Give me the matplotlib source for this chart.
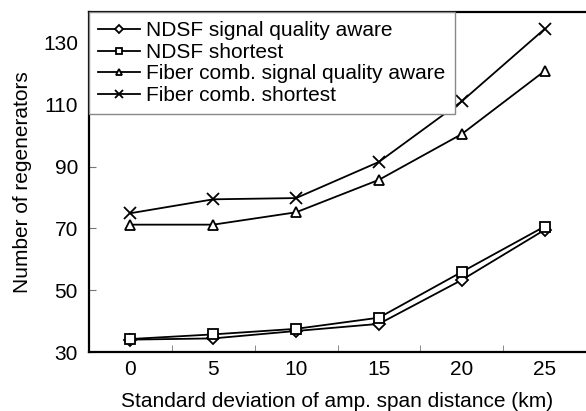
import matplotlib.pyplot as plt

plt.rcParams['font.family'] = ['Liberation Sans', 'DejaVu Sans']

# x categories (standard deviation of amp. span distance, km)
std_dev = [0, 5, 10, 15, 20, 25]

# number of regenerators per strategy
ndsf_quality = [34.0, 34.4, 36.8, 39.1, 53.3, 69.5]
ndsf_shortest = [34.2, 35.7, 37.5, 41.1, 55.9, 70.6]
fiber_quality = [71.2, 71.2, 75.2, 85.7, 100.5, 120.9]
fiber_shortest = [74.9, 79.4, 79.8, 91.5, 111.1, 134.5]

y_ticks = [30, 50, 70, 90, 110, 130]

fig = plt.figure(figsize=(5.86, 4.11), dpi=100)
ax = fig.add_axes([89 / 586, 59 / 411, 497 / 586, 340 / 411])

mk = dict(color='black', lw=1.3, markerfacecolor='white', markeredgecolor='black',
          markeredgewidth=1.3, markersize=7.5)
ax.plot(std_dev, ndsf_quality, marker='D', label='NDSF signal quality aware',
        **{**mk, 'markersize': 6})
ax.plot(std_dev, ndsf_shortest, marker='s', label='NDSF shortest', **{**mk, 'markersize': 7})
ax.plot(std_dev, fiber_quality, marker='^', label='Fiber comb. signal quality aware', **mk)
ax.plot(std_dev, fiber_shortest, marker='x', label='Fiber comb. shortest', **{**mk, 'markersize': 9})

ax.set_xlim(-2.5, 27.5)
ax.set_ylim(30, 140)
ax.set_yticks(y_ticks)
ax.set_xticks(std_dev)
ax.set_xticks([2.5, 7.5, 12.5, 17.5, 22.5], minor=True)
ax.tick_params(axis='x', which='major', length=0, labelsize=15, pad=6)
ax.tick_params(axis='x', which='minor', direction='in', length=5, color='#777777')
ax.tick_params(axis='y', direction='in', length=5, color='#777777', labelsize=15, pad=8)

for side in ['left', 'bottom', 'top']:
    ax.spines[side].set_linewidth(1.6)
ax.spines['right'].set_visible(False)

ax.set_xlabel('Standard deviation of amp. span distance (km)', fontsize=15, labelpad=9)
ax.set_ylabel('Number of regenerators', fontsize=15, labelpad=8)

leg = ax.legend(loc='upper left', bbox_to_anchor=(0, 1), borderaxespad=0, fontsize=15,
                fancybox=False, edgecolor='#888888', markerscale=0.65, handlelength=2.0,
                handletextpad=0.3, labelspacing=0.12, borderpad=0.45, framealpha=1)
leg.get_frame().set_linewidth(1.0)

fig.savefig('out.png', dpi=100)
